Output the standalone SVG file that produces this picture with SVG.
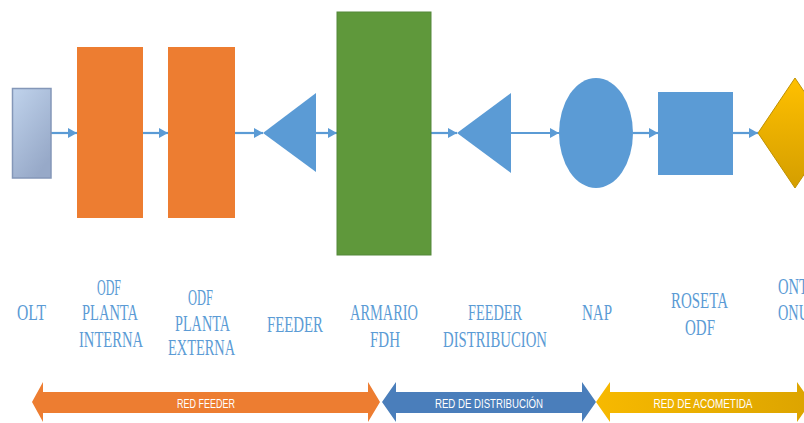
<svg xmlns="http://www.w3.org/2000/svg" width="804" height="423" viewBox="0 0 804 423">
  <defs>
    <linearGradient id="oltFill" x1="0" y1="0" x2="0.6" y2="1">
      <stop offset="0" stop-color="#c0d3ec"/>
      <stop offset="1" stop-color="#97a9c8"/>
    </linearGradient>
    <linearGradient id="goldFill" x1="0" y1="0" x2="0" y2="1">
      <stop offset="0" stop-color="#ffc000"/>
      <stop offset="1" stop-color="#d49e00"/>
    </linearGradient>
    <linearGradient id="goldBand" x1="0" y1="0" x2="1" y2="0">
      <stop offset="0" stop-color="#f7b900"/>
      <stop offset="1" stop-color="#dca400"/>
    </linearGradient>
    <marker id="head" markerUnits="userSpaceOnUse" markerWidth="9" markerHeight="10" refX="9" refY="5" orient="auto">
      <path d="M0,0 L9,5 L0,10 z" fill="#5b9bd5"/>
    </marker>
  </defs>
  <style>
    .link { stroke: #5b9bd5; stroke-width: 2.2; fill: none; marker-end: url(#head); }
    .blue { fill: #5b9bd5; }
    .orange { fill: #ed7d31; }
    .label { font-family: "Liberation Serif", "Times New Roman", serif; font-size: 23.5px; fill: #5b9bd5; text-anchor: middle; }
    .band { font-family: "Liberation Sans", Arial, sans-serif; font-size: 13px; fill: #ffffff; text-anchor: middle; }
  </style>

  <rect width="804" height="423" fill="#ffffff"/>

  <!-- connectors along the signal path -->
  <g id="connectors">
    <line class="link" x1="51" y1="133" x2="77" y2="133"/>
    <line class="link" x1="143" y1="133" x2="168" y2="133"/>
    <line class="link" x1="235" y1="133" x2="263" y2="133"/>
    <line class="link" x1="316" y1="133" x2="337" y2="133"/>
    <line class="link" x1="431" y1="133" x2="457" y2="133"/>
    <line class="link" x1="511" y1="133" x2="559" y2="133"/>
    <line class="link" x1="633" y1="133" x2="658" y2="133"/>
    <line class="link" x1="733" y1="133" x2="758" y2="133"/>
  </g>

  <g id="olt">
    <rect x="12.5" y="88.5" width="38.5" height="89.5" fill="url(#oltFill)" stroke="#8497b8" stroke-width="1.5"/>
    <text class="label" x="31.5" y="320" textLength="29" lengthAdjust="spacingAndGlyphs">OLT</text>
  </g>

  <g id="odf-interna">
    <rect class="orange" x="77" y="47" width="66" height="171"/>
    <text class="label" x="109" y="295" textLength="24" lengthAdjust="spacingAndGlyphs">ODF</text>
    <text class="label" x="110" y="320" textLength="56" lengthAdjust="spacingAndGlyphs">PLANTA</text>
    <text class="label" x="111" y="347" textLength="64" lengthAdjust="spacingAndGlyphs">INTERNA</text>
  </g>

  <g id="odf-externa">
    <rect class="orange" x="168" y="47" width="67" height="171"/>
    <text class="label" x="200.5" y="305" textLength="25" lengthAdjust="spacingAndGlyphs">ODF</text>
    <text class="label" x="202.5" y="331" textLength="55" lengthAdjust="spacingAndGlyphs">PLANTA</text>
    <text class="label" x="201.5" y="355" textLength="67" lengthAdjust="spacingAndGlyphs">EXTERNA</text>
  </g>

  <g id="feeder">
    <polygon class="blue" points="263,133 316,93 316,172"/>
    <text class="label" x="295" y="332" font-size="21" textLength="56" lengthAdjust="spacingAndGlyphs">FEEDER</text>
  </g>

  <g id="armario-fdh">
    <rect x="337" y="12" width="94" height="243" fill="#5f983b" stroke="#55883a" stroke-width="1"/>
    <text class="label" x="384" y="320" textLength="68" lengthAdjust="spacingAndGlyphs">ARMARIO</text>
    <text class="label" x="385" y="347" textLength="30" lengthAdjust="spacingAndGlyphs">FDH</text>
  </g>

  <g id="feeder-distribucion">
    <polygon class="blue" points="457,133 511,93 511,173"/>
    <text class="label" x="495" y="320" textLength="54" lengthAdjust="spacingAndGlyphs">FEEDER</text>
    <text class="label" x="495" y="347" textLength="104" lengthAdjust="spacingAndGlyphs">DISTRIBUCION</text>
  </g>

  <g id="nap">
    <ellipse class="blue" cx="596" cy="133" rx="37" ry="55"/>
    <text class="label" x="597" y="320" textLength="30" lengthAdjust="spacingAndGlyphs">NAP</text>
  </g>

  <g id="roseta-odf">
    <rect class="blue" x="658" y="92" width="75" height="83"/>
    <text class="label" x="699.5" y="308" textLength="57" lengthAdjust="spacingAndGlyphs">ROSETA</text>
    <text class="label" x="700" y="335" textLength="30" lengthAdjust="spacingAndGlyphs">ODF</text>
  </g>

  <g id="ont-onu">
    <polygon points="758,133 795,78 832,133 795,188" fill="url(#goldFill)" stroke="#bf9000" stroke-width="1"/>
    <text class="label" x="778" y="294" style="text-anchor:start" textLength="30" lengthAdjust="spacingAndGlyphs">ONT</text>
    <text class="label" x="778" y="320" style="text-anchor:start" textLength="31" lengthAdjust="spacingAndGlyphs">ONU</text>
  </g>

  <!-- network segment bands -->
  <g id="red-feeder">
    <polygon class="orange" points="32,402 43,382 43,392 368,392 368,382 380,402 368,422 368,413 43,413 43,422"/>
    <text class="band" x="206" y="408" textLength="58" lengthAdjust="spacingAndGlyphs">RED FEEDER</text>
  </g>
  <g id="red-distribucion">
    <polygon points="382,402 396,382 396,392 582,392 582,382 596,402 582,422 582,413 396,413 396,422" fill="#4a7ebb"/>
    <text class="band" x="489" y="408" textLength="108" lengthAdjust="spacingAndGlyphs">RED DE DISTRIBUCIÓN</text>
  </g>
  <g id="red-acometida">
    <polygon points="596,402 610,382 610,392 797,392 797,382 811,402 797,422 797,413 610,413 610,422" fill="url(#goldBand)"/>
    <text class="band" x="703" y="408" textLength="99" lengthAdjust="spacingAndGlyphs">RED DE ACOMETIDA</text>
  </g>
</svg>
